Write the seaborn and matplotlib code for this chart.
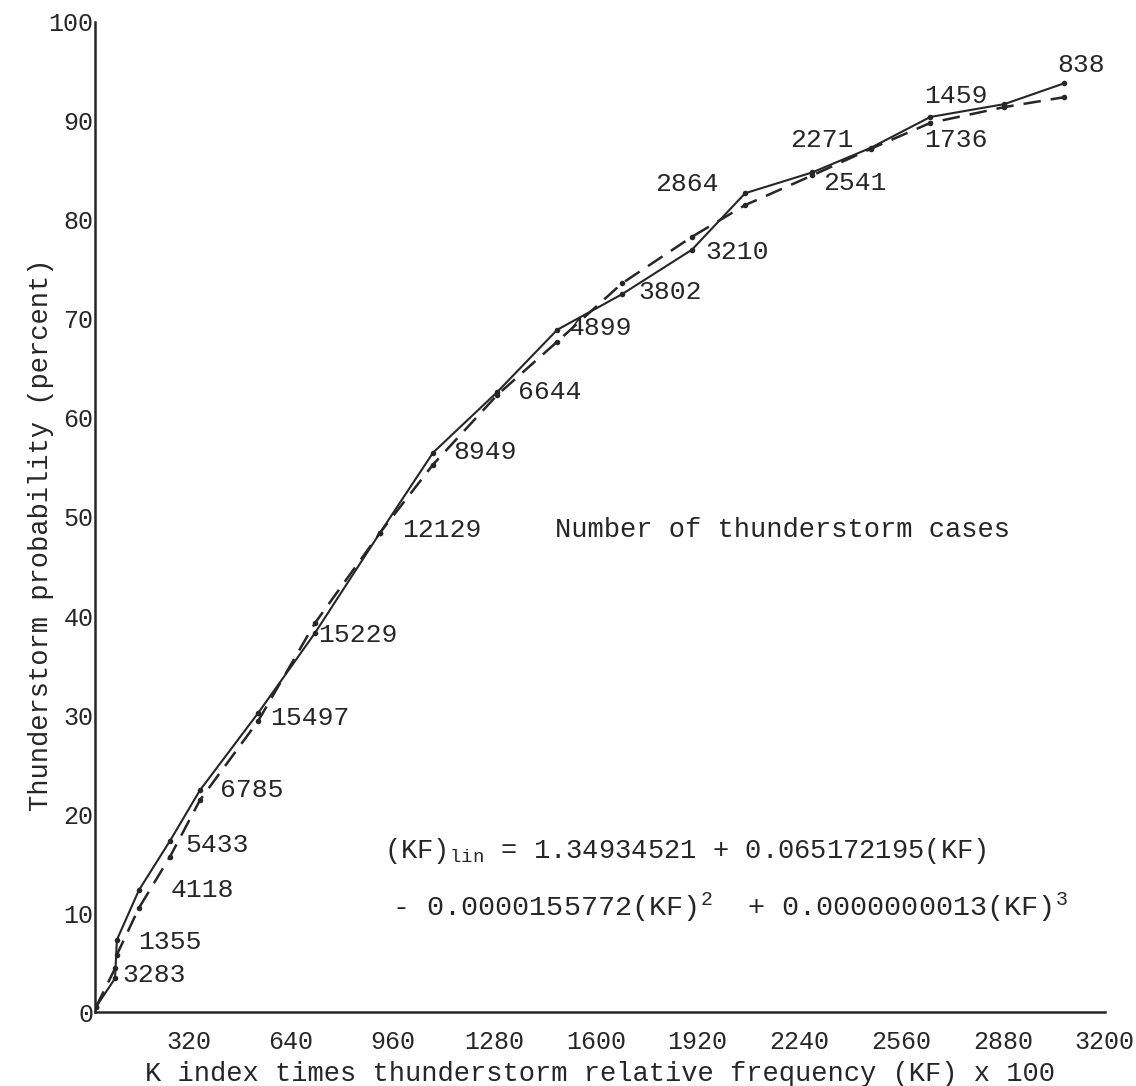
import matplotlib
matplotlib.use("Agg")
import matplotlib.pyplot as plt
import seaborn as sns
import pandas as pd

# ---- data ----
kf = [28, 88, 94, 163, 261, 355, 538, 717, 921, 1088, 1289, 1478, 1682, 1902,
      2069, 2280, 2465, 2651, 2884, 3072]
observed = [0.5, 3.4, 7.3, 12.3, 17.3, 22.4, 30.2, 38.3, 48.4, 56.5, 62.6, 68.9,
            72.5, 77.0, 82.7, 84.8, 87.3, 90.4, 91.7, 93.8]
fitted = [0.5, 4.4, 5.8, 10.5, 15.7, 21.4, 29.4, 39.3, 48.4, 55.3, 62.3, 67.7,
          73.6, 78.3, 81.5, 84.5, 87.2, 89.8, 91.4, 92.4]
case_labels = ["3283", "1355", "4118", "5433", "6785", "15497", "15229", "12129",
               "8949", "6644", "4899", "3802", "3210", "2864", "2541", "2271",
               "1736", "1459", "838"]
x_ticks = [320, 640, 960, 1280, 1600, 1920, 2240, 2560, 2880, 3200]
y_ticks = [0, 10, 20, 30, 40, 50, 60, 70, 80, 90, 100]

# layout: label anchor positions (left edge, vertical centre) in data units
label_pos = [(110, 3.7), (160, 7.1), (262, 12.3), (308, 16.9), (418, 22.4),
             (575, 29.7), (726, 38.1), (990, 48.7), (1151, 56.6), (1355, 62.6),
             (1513, 69.1), (1733, 72.7), (1943, 76.8), (1786, 83.6), (2314, 83.7),
             (2210, 88.1), (2632, 88.1), (2632, 92.5), (3050, 95.7)]

sns.set_style("white")
plt.rcParams["font.family"] = ["Liberation Mono", "DejaVu Sans Mono"]
plt.rcParams["mathtext.fontset"] = "custom"
plt.rcParams["mathtext.rm"] = "Liberation Mono"
plt.rcParams["mathtext.it"] = "Liberation Mono"
plt.rcParams["mathtext.bf"] = "Liberation Mono"

ink = "#262626"
df = pd.DataFrame({"kf": kf, "observed": observed, "fitted": fitted})

fig = plt.figure(figsize=(11.36, 10.86), dpi=100)
ax = fig.add_axes([0.0836, 0.0681, 0.889, 0.9117])

sns.lineplot(data=df, x="kf", y="observed", ax=ax, color=ink, lw=1.5,
             marker="o", markersize=4, markeredgewidth=0, sort=False)
sns.lineplot(data=df, x="kf", y="fitted", ax=ax, color=ink, lw=1.8,
             linestyle=(0, (7, 4)), marker="o", markersize=4,
             markeredgewidth=0, sort=False)

for lab, (px, py) in zip(case_labels, label_pos):
    ax.text(px, py, lab, fontsize=19, color=ink, ha="left", va="center")

ax.text(1472, 48.7, "Number of thunderstorm cases", fontsize=19.5, color=ink,
        ha="left", va="center")
ax.text(935, 16.3, r"(KF)$_{\mathrm{lin}}$ = 1.34934521 + 0.065172195(KF)",
        fontsize=19.5, color=ink, ha="left", va="center")
ax.text(958, 10.6,
        r"- 0.0000155772(KF)$^{\mathrm{2}}$  + 0.0000000013(KF)$^{\mathrm{3}}$",
        fontsize=20.5, color=ink, ha="left", va="center")

ax.set_xlim(25, 3200)
ax.set_ylim(0, 100)
ax.set_xticks(x_ticks)
ax.set_yticks(y_ticks)
ax.set_xticklabels([str(t) for t in x_ticks])
ax.set_yticklabels([str(t) for t in y_ticks])
ax.tick_params(axis="both", direction="in", length=11, width=1.6, colors=ink,
               labelsize=18)
ax.tick_params(axis="x", pad=13)
ax.tick_params(axis="y", pad=1)

for s in ["top", "right"]:
    ax.spines[s].set_visible(False)
for s in ["left", "bottom"]:
    ax.spines[s].set_color(ink)
    ax.spines[s].set_linewidth(1.8)

ax.set_xlabel("K index times thunderstorm relative frequency (KF) x 100",
              fontsize=19.5, color=ink)
ax.set_ylabel("Thunderstorm probability (percent)", fontsize=19.5, color=ink)
ax.xaxis.set_label_coords(0.5, -0.049)
ax.yaxis.set_label_coords(-0.041, 0.482)

fig.savefig("out.png", dpi=100, facecolor="white")
